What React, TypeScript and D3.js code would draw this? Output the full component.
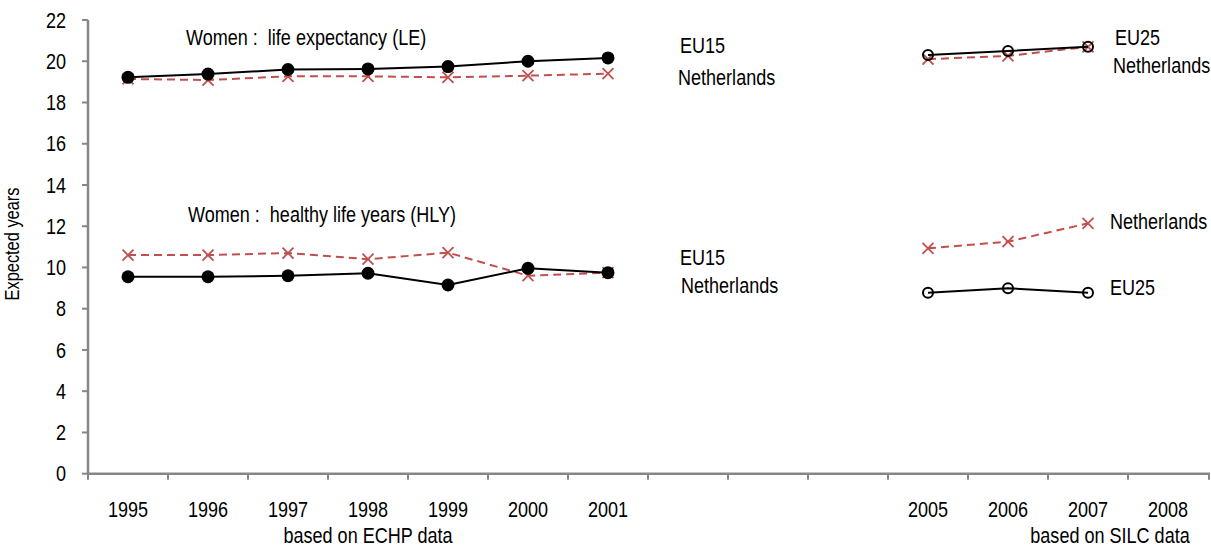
import React from 'react';
import * as d3 from 'd3';

// x categories (one slot per calendar year, 2002-2004 left empty)
const categories = ['1995', '1996', '1997', '1998', '1999', '2000', '2001', '2002', '2003', '2004', '2005', '2006', '2007', '2008'];
const hiddenLabels = ['2002', '2003', '2004'];
const yTicks = [0, 2, 4, 6, 8, 10, 12, 14, 16, 18, 20, 22];

const echpYears = ['1995', '1996', '1997', '1998', '1999', '2000', '2001'];
const silcYears = ['2005', '2006', '2007'];

// life expectancy (LE), women
const leEu15 = [19.22, 19.38, 19.6, 19.63, 19.74, 20.0, 20.16];
const leNlEchp = [19.14, 19.09, 19.27, 19.27, 19.22, 19.3, 19.4];
const leEu25 = [20.3, 20.5, 20.7];
const leNlSilc = [20.1, 20.26, 20.7];

// healthy life years (HLY), women
const hlyEu15 = [9.55, 9.55, 9.6, 9.72, 9.15, 9.96, 9.75];
const hlyNlEchp = [10.6, 10.6, 10.7, 10.4, 10.72, 9.6, 9.75];
const hlyEu25 = [8.78, 8.99, 8.78];
const hlyNlSilc = [10.93, 11.25, 12.14];

const W = 1211;
const H = 547;
const FONT = "'Liberation Sans', Arial, sans-serif";
const RED = '#C0504D';
const AXIS = '#868686';
const NARROW = 0.82; // no Arial Narrow offline, so squeeze Liberation Sans

type Pt = { cat: string; v: number };
const zip = (cats: string[], vals: number[]): Pt[] => cats.map((c, i) => ({ cat: c, v: vals[i] }));

// condensed text helper
const NText: React.FC<{
  x: number;
  y: number;
  size?: number;
  anchor?: 'start' | 'middle' | 'end';
  rotate?: number;
  children: React.ReactNode;
}> = ({ x, y, size = 22, anchor = 'start', rotate = 0, children }) => (
  <g transform={`translate(${x},${y}) rotate(${rotate}) scale(${NARROW},1)`}>
    <text textAnchor={anchor} dominantBaseline="central" fontSize={size} xmlSpace="preserve">
      {children}
    </text>
  </g>
);

const App: React.FC = () => {
  const x = d3.scaleBand<string>().domain(categories).range([88, 1208]).padding(0);
  const y = d3.scaleLinear().domain([0, 22]).range([473.7, 20]);
  const bw = x.bandwidth();
  const cx = (c: string) => (x(c) ?? 0) + bw / 2;

  const line = d3.line<Pt>().x(d => cx(d.cat)).y(d => y(d.v));

  const solid = (pts: Pt[], key: string, filled: boolean) => (
    <g key={key}>
      <path d={line(pts) ?? ''} fill="none" stroke="#000" strokeWidth={2} />
      {pts.map((p, i) =>
        filled ? (
          <circle key={i} cx={cx(p.cat)} cy={y(p.v)} r={6.5} fill="#000" />
        ) : (
          <circle key={i} cx={cx(p.cat)} cy={y(p.v)} r={5} fill="none" stroke="#000" strokeWidth={2} />
        )
      )}
    </g>
  );

  const dashed = (pts: Pt[], key: string) => (
    <g key={key}>
      <path d={line(pts) ?? ''} fill="none" stroke={RED} strokeWidth={2} strokeDasharray="8,5" />
      {pts.map((p, i) => {
        const px = cx(p.cat);
        const py = y(p.v);
        const s = 5.5;
        return (
          <path
            key={i}
            d={`M${px - s},${py - s}L${px + s},${py + s}M${px - s},${py + s}L${px + s},${py - s}`}
            stroke={RED}
            strokeWidth={1.8}
          />
        );
      })}
    </g>
  );

  const gapX = x('2002') ?? 0;
  const lastX = cx('2007');

  return (
    <svg width={W} height={H} style={{ position: 'absolute', left: 0, top: 0, background: '#fff' }} fontFamily={FONT}>
      {/* y axis */}
      <line x1={88} x2={88} y1={y(22)} y2={y(0)} stroke={AXIS} strokeWidth={2.5} />
      {yTicks.map(t => (
        <g key={t}>
          <line x1={82} x2={88} y1={y(t)} y2={y(t)} stroke={AXIS} strokeWidth={2} />
          <NText x={66} y={y(t)} anchor="end">{t}</NText>
        </g>
      ))}
      <NText x={12} y={244} rotate={-90} anchor="middle" size={20}>
        Expected years
      </NText>

      {/* x axis */}
      <line x1={88} x2={1210} y1={y(0)} y2={y(0)} stroke={AXIS} strokeWidth={2.5} />
      {categories.map(c => (
        <line key={'t' + c} x1={x(c)} x2={x(c)} y1={y(0)} y2={y(0) + 6} stroke={AXIS} strokeWidth={2} />
      ))}
      <line x1={1209} x2={1209} y1={y(0)} y2={y(0) + 6} stroke={AXIS} strokeWidth={2} />
      {categories
        .filter(c => !hiddenLabels.includes(c))
        .map(c => (
          <NText key={'l' + c} x={cx(c)} y={509} anchor="middle">{c}</NText>
        ))}
      <NText x={(cx('1995') + cx('2001')) / 2} y={535} anchor="middle">based on ECHP data</NText>
      <NText x={cx('2007') + 22} y={535} anchor="middle">based on SILC data</NText>

      {/* annotations */}
      <NText x={186} y={37}>{'Women :  life expectancy (LE)'}</NText>
      <NText x={188} y={214}>{'Women :  healthy life years (HLY)'}</NText>

      {/* series */}
      {dashed(zip(echpYears, leNlEchp), 'leNl')}
      {solid(zip(echpYears, leEu15), 'leEu15', true)}
      {dashed(zip(silcYears, leNlSilc), 'leNlS')}
      {solid(zip(silcYears, leEu25), 'leEu25', false)}
      {dashed(zip(echpYears, hlyNlEchp), 'hlyNl')}
      {solid(zip(echpYears, hlyEu15), 'hlyEu15', true)}
      {dashed(zip(silcYears, hlyNlSilc), 'hlyNlS')}
      {solid(zip(silcYears, hlyEu25), 'hlyEu25', false)}

      {/* series labels */}
      <NText x={gapX + 32} y={45}>EU15</NText>
      <NText x={gapX + 30} y={77}>Netherlands</NText>
      <NText x={gapX + 32} y={257.5}>EU15</NText>
      <NText x={gapX + 33} y={285}>Netherlands</NText>
      <NText x={lastX + 27} y={37.5}>EU25</NText>
      <NText x={lastX + 25} y={65}>Netherlands</NText>
      <NText x={lastX + 22} y={221.7}>Netherlands</NText>
      <NText x={lastX + 22} y={287}>EU25</NText>
    </svg>
  );
};

export default App;
